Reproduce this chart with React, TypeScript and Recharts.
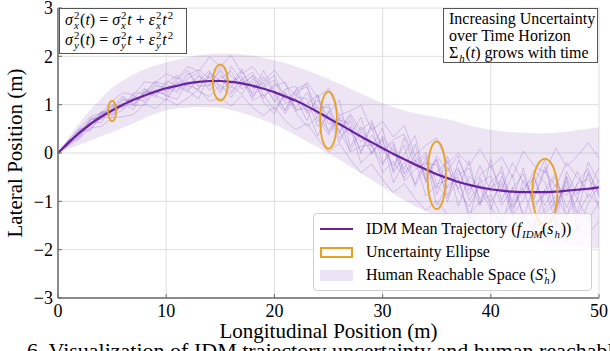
import React from 'react';
import { ComposedChart, Area, Line, XAxis, YAxis, CartesianGrid } from 'recharts';

const SERIF = 'Liberation Serif';
const AXIS_GRAY = '#6b6b6b';
const PURPLE = '#6a22a0';
const TRACE = '#8e5cc8';
const BAND = '#9467bd';
const ORANGE = '#e8a020';

// longitudinal sample positions (m)
const longitudinal = [
  0, 1, 2, 3, 4, 5, 6, 7, 8, 9, 10, 11, 12, 13, 14, 15, 16, 17, 18, 19, 20, 21, 22, 23, 24, 25,
  26, 27, 28, 29, 30, 31, 32, 33, 34, 35, 36, 37, 38, 39, 40, 41, 42, 43, 44, 45, 46, 47, 48, 49, 50,
];

// IDM mean trajectory, lateral (m)
const meanLateral = [
  0, 0.22, 0.42, 0.6, 0.75, 0.88, 1.0, 1.1, 1.19, 1.27,
  1.34, 1.39, 1.44, 1.47, 1.49, 1.49, 1.47, 1.44, 1.39, 1.33,
  1.26, 1.17, 1.08, 0.97, 0.85, 0.72, 0.6, 0.47, 0.34, 0.22,
  0.1, -0.02, -0.13, -0.24, -0.34, -0.44, -0.52, -0.6, -0.66, -0.71,
  -0.75, -0.78, -0.8, -0.81, -0.81, -0.81, -0.8, -0.78, -0.76, -0.74,
  -0.71,
];

// reachable space envelope
const bandUpper = [
  0, 0.33, 0.62, 0.9, 1.13, 1.35, 1.5, 1.63, 1.73, 1.81,
  1.87, 1.93, 1.98, 2.02, 2.05, 2.06, 2.06, 2.04, 2.01, 1.97,
  1.92, 1.86, 1.79, 1.71, 1.62, 1.53, 1.43, 1.33, 1.23, 1.13,
  1.03, 0.95, 0.88, 0.82, 0.78, 0.74, 0.7, 0.64, 0.57, 0.52,
  0.48, 0.45, 0.43, 0.42, 0.41, 0.41, 0.42, 0.44, 0.47, 0.5,
  0.54,
];
const bandLower = [
  0, 0.09, 0.17, 0.26, 0.35, 0.43, 0.52, 0.62, 0.72, 0.81,
  0.88, 0.92, 0.94, 0.95, 0.95, 0.93, 0.89, 0.83, 0.76, 0.68,
  0.59, 0.48, 0.36, 0.24, 0.12, -0.01, -0.14, -0.28, -0.42, -0.56,
  -0.7, -0.84, -0.98, -1.1, -1.2, -1.29, -1.38, -1.46, -1.53, -1.59,
  -1.64, -1.69, -1.74, -1.78, -1.81, -1.84, -1.87, -1.9, -1.93, -1.95,
  -1.97,
];

// sampled trajectories, offset from the mean (m)
const sampleA = [
  0, 0.05, -0.03, 0.08, 0.02, 0.12, -0.05, 0.15, 0.04, 0.2,
  0.08, -0.1, 0.18, 0.25, 0.05, 0.3, 0.12, -0.05, 0.22, 0.1,
  0.35, -0.08, 0.2, 0.4, 0.05, 0.28, -0.15, 0.35, 0.12, 0.45,
  -0.05, 0.3, 0.52, 0.1, -0.2, 0.38, 0.15, 0.55, -0.1, 0.25,
  0.48, 0.02, 0.6, 0.2, -0.15, 0.45, 0.1, 0.58, 0.25, -0.05,
  0.4,
];
const sampleB = [
  0, -0.04, 0.02, -0.1, -0.02, -0.14, 0.03, -0.12, -0.2, 0.02,
  -0.15, -0.28, 0.05, -0.2, -0.32, -0.08, -0.25, 0.1, -0.3, -0.12,
  -0.38, 0.05, -0.25, -0.42, -0.1, -0.35, 0.12, -0.45, -0.2, -0.05,
  -0.5, -0.15, -0.38, 0.1, -0.55, -0.22, -0.4, 0.05, -0.6, -0.3,
  -0.12, -0.55, -0.25, 0.08, -0.62, -0.35, -0.1, -0.5, -0.2, -0.65,
  -0.3,
];
const sampleC = [
  0, 0.02, 0.08, -0.05, 0.1, 0.0, 0.14, -0.08, 0.1, -0.12,
  0.15, 0.0, -0.18, 0.12, -0.05, 0.2, -0.2, 0.08, 0.28, -0.15,
  0.12, 0.3, -0.22, 0.05, 0.35, -0.3, 0.15, -0.1, 0.4, -0.25,
  0.2, -0.35, 0.45, -0.05, 0.3, -0.42, 0.22, -0.15, 0.5, -0.35,
  0.15, 0.4, -0.45, 0.25, -0.1, 0.52, -0.3, 0.2, -0.48, 0.35,
  -0.15,
];
const sampleD = [
  0, -0.02, -0.08, 0.04, -0.12, 0.06, -0.04, 0.1, -0.15, 0.05,
  -0.05, 0.18, -0.12, 0.02, 0.22, -0.18, 0.0, 0.15, -0.25, 0.25,
  -0.05, -0.3, 0.18, -0.15, 0.25, 0.02, -0.38, 0.22, -0.12, 0.32,
  -0.3, 0.12, -0.2, 0.42, -0.28, 0.05, 0.35, -0.5, 0.18, 0.0,
  -0.42, 0.3, -0.2, 0.5, -0.35, 0.05, 0.38, -0.55, 0.15, 0.42,
  -0.2,
];
const sampleE = [
  0, 0.06, 0.1, 0.15, 0.08, 0.2, 0.25, 0.1, 0.28, 0.18,
  0.3, 0.15, 0.35, 0.22, 0.5, 0.3, 0.55, 0.2, 0.4, 0.15,
  0.45, 0.25, 0.1, 0.5, 0.3, 0.62, 0.18, 0.4, 0.65, 0.25,
  0.55, 0.35, 0.7, 0.2, 0.5, 0.75, 0.3, 0.6, 0.4, 0.8,
  0.45, 0.7, 0.3, 0.85, 0.55, 0.4, 0.9, 0.5, 0.7, 0.95,
  0.6,
];
const sampleF = [
  0, -0.06, -0.12, -0.08, -0.2, -0.15, -0.25, -0.3, -0.18, -0.35,
  -0.22, -0.4, -0.3, -0.15, -0.42, -0.35, -0.5, -0.25, -0.45, -0.55,
  -0.3, -0.5, -0.6, -0.35, -0.55, -0.7, -0.4, -0.6, -0.75, -0.45,
  -0.65, -0.8, -0.5, -0.7, -0.85, -0.55, -0.75, -0.9, -0.6, -0.8,
  -0.95, -0.65, -0.85, -1.0, -0.7, -0.9, -0.6, -1.05, -0.8, -0.95,
  -0.7,
];
const sampleG = [
  0, 0.03, -0.06, 0.12, -0.02, 0.08, 0.18, -0.1, 0.05, 0.22,
  -0.08, 0.12, 0.28, -0.12, 0.1, -0.25, 0.32, 0.05, -0.15, 0.38,
  0.0, -0.28, 0.25, 0.45, -0.2, 0.1, 0.5, -0.35, 0.2, -0.1,
  0.42, -0.4, 0.1, 0.6, -0.25, 0.3, -0.5, 0.45, 0.05, -0.38,
  0.62, -0.2, 0.35, -0.55, 0.15, 0.68, -0.4, 0.28, -0.2, 0.55,
  0.1,
];
const sampleH = [
  0, -0.05, 0.04, -0.14, 0.06, -0.1, 0.02, -0.2, 0.12, -0.08,
  -0.25, 0.05, -0.15, -0.35, 0.15, -0.1, -0.32, 0.0, 0.2, -0.28,
  -0.45, 0.1, -0.18, -0.05, -0.5, 0.15, -0.3, 0.08, -0.55, -0.2,
  0.18, -0.6, -0.05, -0.4, 0.25, -0.65, -0.15, 0.1, -0.7, 0.2,
  -0.35, -0.75, 0.1, -0.45, -0.8, 0.05, -0.6, 0.3, -0.85, -0.3,
  0.05,
];
const sampleI = [
  0, 0.04, -0.05, 0.06, 0.1, -0.06, 0.08, 0.02, -0.1, 0.12,
  0.02, -0.14, 0.1, 0.2, -0.1, 0.05, 0.22, -0.12, 0.08, -0.2,
  0.18, 0.05, -0.15, 0.28, -0.05, -0.25, 0.2, 0.05, -0.3, 0.15,
  -0.1, 0.25, -0.28, 0.05, 0.35, -0.2, -0.05, 0.3, -0.32, 0.1,
  0.28, -0.3, 0.05, 0.38, -0.25, -0.05, 0.32, -0.35, 0.12, 0.2,
  -0.1,
];
const sampleJ = [
  0, -0.03, 0.06, -0.04, 0.05, 0.1, -0.08, 0.04, 0.15, -0.06,
  0.1, 0.22, -0.05, -0.15, 0.18, 0.0, -0.12, 0.25, -0.05, 0.12,
  -0.2, 0.15, 0.3, -0.1, 0.1, 0.22, -0.2, 0.3, 0.0, -0.22,
  0.25, 0.05, -0.3, 0.2, -0.12, 0.32, -0.22, 0.15, 0.35, -0.25,
  0.05, 0.2, -0.35, 0.1, 0.3, -0.28, 0.15, -0.1, 0.38, -0.2,
  0.15,
];
const sampleK = [
  0, 0.02, 0.04, 0.1, -0.06, 0.03, 0.12, -0.12, 0.06, 0.0,
  -0.12, 0.08, -0.06, 0.15, -0.2, 0.12, -0.08, -0.22, 0.15, 0.05,
  -0.15, -0.35, 0.08, 0.15, -0.3, 0.05, -0.15, -0.42, 0.1, -0.05,
  -0.35, 0.2, -0.45, -0.1, 0.15, -0.3, 0.45, -0.2, -0.45, 0.05,
  -0.25, 0.15, -0.5, -0.15, 0.35, -0.45, -0.2, 0.1, -0.55, -0.1,
  -0.35,
];
const sampleL = [
  0, -0.02, -0.1, 0.0, 0.08, -0.08, -0.12, 0.06, -0.05, 0.16,
  -0.18, 0.0, 0.22, -0.08, -0.1, 0.25, -0.05, 0.3, -0.2, 0.05,
  0.25, -0.15, 0.05, -0.3, 0.35, -0.12, 0.08, 0.15, -0.35, 0.4,
  0.0, -0.25, 0.3, -0.45, 0.12, 0.2, -0.35, 0.25, -0.2, 0.45,
  -0.05, 0.5, -0.3, 0.0, 0.45, 0.2, -0.45, 0.4, -0.1, 0.3,
  -0.45,
];
const samples = [
  sampleA, sampleB, sampleC, sampleD, sampleE, sampleF,
  sampleG, sampleH, sampleI, sampleJ, sampleK, sampleL,
];

// uncertainty ellipses: centre and semi-axes (m)
const ellipseX = [5, 15, 25, 35, 45];
const ellipseY = [0.87, 1.46, 0.68, -0.46, -0.8];
const ellipseRx = [0.37, 0.69, 0.77, 0.85, 1.16];
const ellipseRy = [0.21, 0.37, 0.59, 0.7, 0.68];

const xTicks = [0, 10, 20, 30, 40, 50];
const yTicks = [-3, -2, -1, 0, 1, 2, 3];

const chartData = longitudinal.map((x, i) => {
  const row: any = { x, mean: meanLateral[i], band: [bandLower[i], bandUpper[i]] };
  samples.forEach((s, k) => {
    row['s' + k] = meanLateral[i] + s[i];
  });
  return row;
});

const ellipses = ellipseX.map((cx, e) => {
  const pts = [];
  for (let k = 0; k <= 72; k++) {
    const t = (k / 72) * Math.PI * 2;
    pts.push({ x: cx + ellipseRx[e] * Math.cos(t), y: ellipseY[e] + ellipseRy[e] * Math.sin(t) });
  }
  return pts;
});

const fmtY = (v: number) => (v < 0 ? '\u2212' + Math.abs(v) : String(v));

// base symbol with stacked superscript / subscript
function Scr({ base, sup, sub }: { base: React.ReactNode; sup?: string; sub?: string }) {
  return (
    <span style={{ whiteSpace: 'nowrap' }}>
      {base}
      <span style={{ position: 'relative', display: 'inline-block', width: sub && sub.length > 1 ? '1.3em' : '0.45em', height: '0.8em' }}>
        {sup && (
          <span style={{ position: 'absolute', left: 1, bottom: 4, fontSize: '0.68em', lineHeight: 1 }}>{sup}</span>
        )}
        {sub && (
          <span style={{ position: 'absolute', left: 1, bottom: -6, fontSize: '0.68em', lineHeight: 1 }}>
            <i>{sub}</i>
          </span>
        )}
      </span>
    </span>
  );
}

const xLabel = (props: any) => {
  const vb = props.viewBox;
  return (
    <text x={vb.x + vb.width / 2} y={vb.y + 40} textAnchor="middle" fontSize={21} fontFamily={SERIF} fill="#000">
      Longitudinal Position (m)
    </text>
  );
};

const yLabel = (props: any) => {
  const vb = props.viewBox;
  const cx = vb.x + 22;
  const cy = vb.y + vb.height / 2;
  return (
    <text
      x={cx}
      y={cy}
      transform={`rotate(-90, ${cx}, ${cy})`}
      textAnchor="middle"
      fontSize={21}
      fontFamily={SERIF}
      fill="#000"
    >
      Lateral Position (m)
    </text>
  );
};

export default function App() {
  const tickStyle = { fill: '#000', fontSize: 18, fontFamily: SERIF };
  const axisLine = { stroke: AXIS_GRAY, strokeWidth: 1.5 };
  return (
    <div
      style={{
        position: 'fixed',
        left: 0,
        top: 0,
        width: 610,
        height: 351,
        overflow: 'hidden',
        background: '#fff',
        fontFamily: SERIF,
      }}
    >
      <ComposedChart width={610} height={351} data={chartData} margin={{ top: 8, right: 11, bottom: 0, left: 0 }}>
        <CartesianGrid stroke="#dedede" strokeWidth={1} />
        <XAxis
          dataKey="x"
          type="number"
          domain={[0, 50]}
          ticks={xTicks}
          interval={0}
          height={53}
          tickSize={-4}
          tickMargin={10}
          axisLine={axisLine}
          tickLine={{ stroke: AXIS_GRAY }}
          tick={tickStyle}
          label={{ content: xLabel }}
        />
        <XAxis
          xAxisId="top"
          orientation="top"
          dataKey="x"
          type="number"
          domain={[0, 50]}
          ticks={xTicks}
          interval={0}
          height={0}
          tickSize={-4}
          axisLine={axisLine}
          tickLine={{ stroke: AXIS_GRAY }}
          tick={false}
        />
        <YAxis
          type="number"
          domain={[-3, 3]}
          ticks={yTicks}
          interval={0}
          width={58}
          tickSize={-4}
          tickMargin={9}
          tickFormatter={fmtY}
          axisLine={axisLine}
          tickLine={{ stroke: AXIS_GRAY }}
          tick={tickStyle}
          label={{ content: yLabel }}
        />
        <YAxis
          yAxisId="right"
          orientation="right"
          type="number"
          domain={[-3, 3]}
          ticks={yTicks}
          interval={0}
          width={0}
          tickSize={-4}
          axisLine={axisLine}
          tickLine={{ stroke: AXIS_GRAY }}
          tick={false}
        />
        <Area
          dataKey="band"
          type="monotone"
          stroke="none"
          fill={BAND}
          fillOpacity={0.17}
          isAnimationActive={false}
        />
        {samples.map((_, k) => (
          <Line
            key={'s' + k}
            dataKey={'s' + k}
            type="linear"
            stroke={TRACE}
            strokeOpacity={0.35}
            strokeWidth={0.9}
            dot={false}
            activeDot={false}
            isAnimationActive={false}
          />
        ))}
        <Line
          dataKey="mean"
          type="monotone"
          stroke={PURPLE}
          strokeWidth={2.2}
          dot={false}
          activeDot={false}
          isAnimationActive={false}
        />
        {ellipses.map((pts, e) => (
          <Line
            key={'e' + e}
            data={pts}
            dataKey="y"
            type="linear"
            stroke={ORANGE}
            strokeWidth={1.8}
            dot={false}
            activeDot={false}
            isAnimationActive={false}
          />
        ))}
      </ComposedChart>

      <div
        style={{
          position: 'absolute',
          left: 59,
          top: 8,
          width: 128,
          height: 46,
          boxSizing: 'border-box',
          border: '1.5px solid #555',
          background: '#fff',
          fontSize: 16,
          lineHeight: '20px',
          padding: '1px 0 0 5px',
          whiteSpace: 'nowrap',
        }}
      >
        <div>
          <Scr base={<i>σ</i>} sup="2" sub="x" />(<i>t</i>) = <Scr base={<i>σ</i>} sup="2" sub="x" />
          <i>t</i> + <Scr base={<i>ε</i>} sup="2" sub="x" />
          <Scr base={<i>t</i>} sup="2" />
        </div>
        <div>
          <Scr base={<i>σ</i>} sup="2" sub="y" />(<i>t</i>) = <Scr base={<i>σ</i>} sup="2" sub="y" />
          <i>t</i> + <Scr base={<i>ε</i>} sup="2" sub="y" />
          <Scr base={<i>t</i>} sup="2" />
        </div>
      </div>

      <div
        style={{
          position: 'absolute',
          left: 443,
          top: 8,
          width: 155,
          height: 55,
          boxSizing: 'border-box',
          border: '1.5px solid #555',
          background: '#fff',
          fontSize: 16,
          lineHeight: '17px',
          padding: '1px 0 0 5px',
          whiteSpace: 'nowrap',
        }}
      >
        <div>Increasing Uncertainty</div>
        <div>over Time Horizon</div>
        <div>
          <Scr base="Σ" sub="h" />(<i>t</i>) grows with time
        </div>
      </div>

      <div
        style={{
          position: 'absolute',
          left: 313,
          top: 213,
          width: 279,
          height: 78,
          boxSizing: 'border-box',
          border: '1px solid #d0d0d0',
          borderRadius: 4,
          background: 'rgba(255,255,255,0.8)',
          fontSize: 16,
          whiteSpace: 'nowrap',
        }}
      >
        <div style={{ position: 'absolute', left: 6, top: 4, height: 22, display: 'flex', alignItems: 'center' }}>
          <span style={{ width: 33, height: 2.2, background: PURPLE, display: 'inline-block' }} />
          <span style={{ marginLeft: 13 }}>
            IDM Mean Trajectory (<Scr base={<i>f</i>} sub="IDM" />
            (<Scr base={<i>s</i>} sub="h" />
            ))
          </span>
        </div>
        <div style={{ position: 'absolute', left: 6, top: 27, height: 22, display: 'flex', alignItems: 'center' }}>
          <span
            style={{ width: 33, height: 11, boxSizing: 'border-box', border: `2px solid ${ORANGE}`, display: 'inline-block' }}
          />
          <span style={{ marginLeft: 13 }}>Uncertainty Ellipse</span>
        </div>
        <div style={{ position: 'absolute', left: 6, top: 50, height: 22, display: 'flex', alignItems: 'center' }}>
          <span style={{ width: 33, height: 11, background: '#ebe3f3', display: 'inline-block' }} />
          <span style={{ marginLeft: 13 }}>
            Human Reachable Space (<Scr base={<i>S</i>} sup="t" sub="h" />)
          </span>
        </div>
      </div>

      <div
        style={{
          position: 'absolute',
          left: 27,
          top: 338,
          fontSize: 22,
          lineHeight: '26px',
          whiteSpace: 'nowrap',
          color: '#000',
        }}
      >
        6. Visualization of IDM trajectory uncertainty and human reachable space
      </div>
    </div>
  );
}
